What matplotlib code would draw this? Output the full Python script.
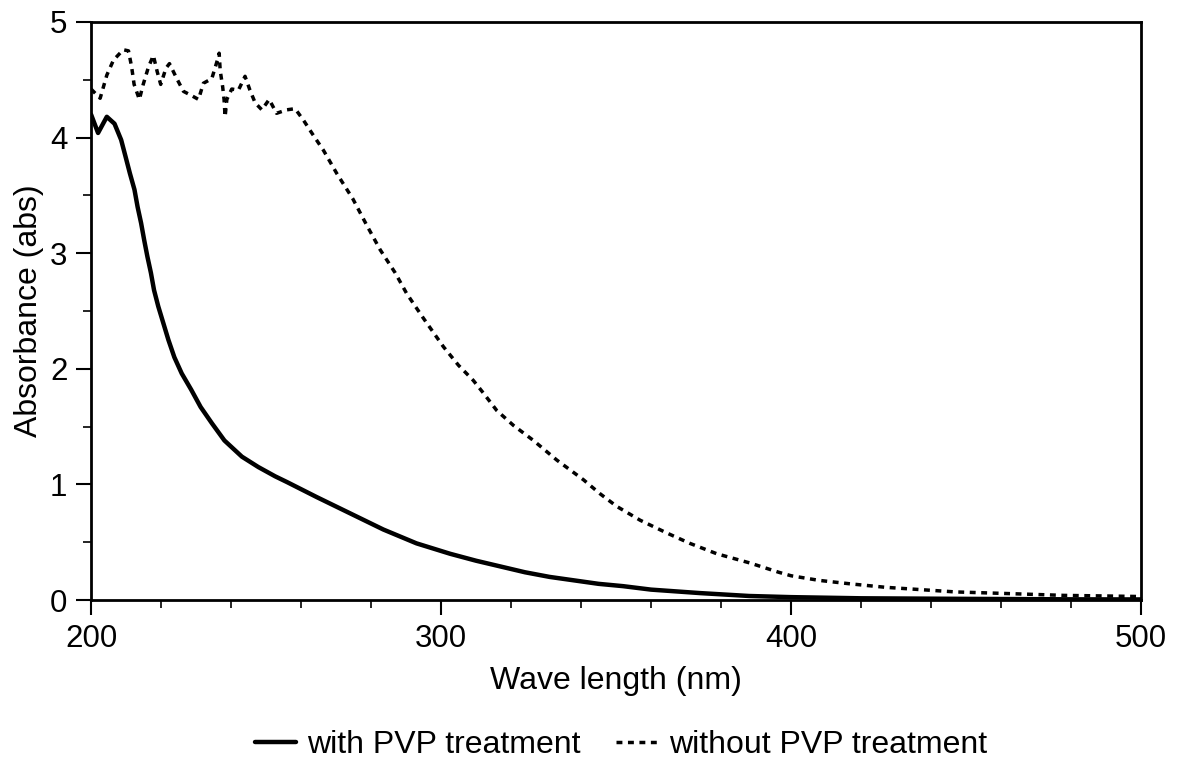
import matplotlib.pyplot as plt
import matplotlib as mpl
from matplotlib.ticker import MultipleLocator

# with PVP treatment (solid)
wl_pvp = [200, 202.0, 204.5, 206.7, 208.6, 209.9, 211.1, 212.4, 213.3, 214.3,
          215.2, 216.1, 217.1, 218.0, 219.2, 220.7, 222.1, 223.8, 225.9, 228.6,
          231.3, 234.5, 238.1, 243.1, 247.8, 252.6, 256.0, 264.5, 274.0, 283.5,
          293.0, 302.6, 310.0, 317.0, 324.0, 331.0, 338.0, 345.0, 352.0, 360.0,
          374.0, 388.0, 400.0, 420.0, 450.0, 480.0, 500.0]
abs_pvp = [4.20, 4.04, 4.18, 4.12, 3.98, 3.83, 3.69, 3.55, 3.40, 3.26,
           3.11, 2.97, 2.83, 2.68, 2.54, 2.39, 2.25, 2.10, 1.96, 1.82,
           1.67, 1.53, 1.38, 1.24, 1.15, 1.07, 1.02, 0.89, 0.75, 0.61,
           0.49, 0.40, 0.34, 0.29, 0.24, 0.20, 0.17, 0.14, 0.12, 0.09,
           0.06, 0.035, 0.025, 0.015, 0.01, 0.006, 0.005]

# without PVP treatment (dashed)
wl_nopvp = [200, 202.6, 204.5, 206.4, 209.2, 210.7, 211.6, 212.3, 213.8, 214.9,
            216.4, 217.8, 218.9, 219.9, 221.4, 222.4, 224.5, 226.4, 228.3, 230.7,
            232.1, 234.5, 235.9, 236.6, 236.9, 237.6, 238.0, 238.3, 238.8, 240.2,
            242.1, 244.0, 245.4, 246.9, 248.8, 250.9, 253.0, 255.9, 258.3, 260.7,
            263.5, 266.4, 270.2, 274.8, 278.8, 282.6, 286.9, 290.2, 294.9, 300.7,
            305.0, 309.2, 312.1, 315.9, 320.7, 326.4, 333.1, 340.7, 345.4, 350.2,
            356.9, 364.5, 371.1, 378.8, 388.3, 396.5, 400.0, 408.0, 416.9, 427.0,
            437.0, 447.0, 457.7, 468.0, 478.0, 490.0, 500.0]
abs_nopvp = [4.42, 4.34, 4.54, 4.67, 4.76, 4.75, 4.61, 4.46, 4.33, 4.46,
             4.61, 4.71, 4.57, 4.46, 4.60, 4.64, 4.51, 4.40, 4.37, 4.33,
             4.47, 4.51, 4.65, 4.73, 4.58, 4.44, 4.33, 4.18, 4.33, 4.42,
             4.41, 4.53, 4.41, 4.30, 4.24, 4.33, 4.21, 4.24, 4.25, 4.15,
             4.02, 3.89, 3.69, 3.47, 3.24, 3.03, 2.83, 2.65, 2.44, 2.19,
             2.03, 1.90, 1.79, 1.64, 1.51, 1.38, 1.21, 1.04, 0.92, 0.81,
             0.69, 0.58, 0.49, 0.40, 0.32, 0.24, 0.21, 0.17, 0.14, 0.11,
             0.09, 0.07, 0.06, 0.05, 0.04, 0.035, 0.03]

mpl.rcParams.update({
    "font.family": ["Liberation Sans", "DejaVu Sans"],
    "font.size": 23,
})

fig = plt.figure(figsize=(11.78, 7.63), dpi=100)
ax = fig.add_axes([0.0773, 0.2136, 0.8913, 0.7576])

ax.plot(wl_pvp, abs_pvp, color="black", lw=3.2, solid_capstyle="round",
        solid_joinstyle="round", label="with PVP treatment")
ax.plot(wl_nopvp, abs_nopvp, color="black", lw=2.5, linestyle=(0, (1.7, 1.6)),
        label="without PVP treatment")

ax.set_xlim(200, 500)
ax.set_ylim(0, 5)
ax.xaxis.set_major_locator(MultipleLocator(100))
ax.xaxis.set_minor_locator(MultipleLocator(20))
ax.yaxis.set_major_locator(MultipleLocator(1))
ax.yaxis.set_minor_locator(MultipleLocator(0.5))

for s in ax.spines.values():
    s.set_linewidth(2)
ax.tick_params(which="major", direction="out", length=11, width=1.5, pad=6,
               labelsize=22.5)
ax.tick_params(which="minor", direction="out", length=6, width=1.2)
ax.tick_params(top=False, right=False, which="both")

ax.set_xlabel("Wave length (nm)", fontsize=23, labelpad=9)
ax.set_ylabel("Absorbance (abs)", fontsize=23, labelpad=4)

fig.legend(loc="center", bbox_to_anchor=(0.527, 0.024), ncol=2, frameon=False,
           fontsize=23, handlelength=1.3, columnspacing=1.1, handletextpad=0.35)

fig.savefig("out.png", dpi=100, facecolor="white")
